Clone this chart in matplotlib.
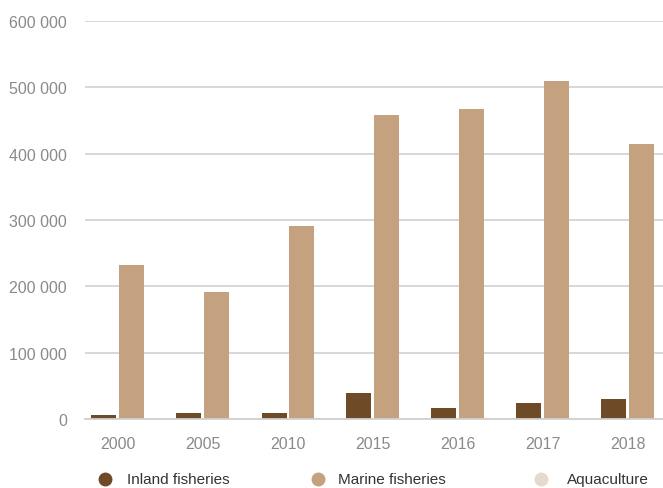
import numpy as np
import matplotlib
matplotlib.use("Agg")
import matplotlib.pyplot as plt
from matplotlib.lines import Line2D

years = ["2000", "2005", "2010", "2015", "2016", "2017", "2018"]
inland = [6000, 9000, 9000, 39000, 16500, 24000, 30000]
marine = [232000, 191000, 291000, 458000, 467000, 510000, 415000]
aquaculture = [0, 0, 0, 0, 0, 0, 0]
series_names = ["Inland fisheries", "Marine fisheries", "Aquaculture"]
colors = ["#6e4a27", "#c4a27f", "#e6d9cd"]

plt.rcParams["font.family"] = ["Liberation Sans", "DejaVu Sans"]

W, H = 663, 489
fig = plt.figure(figsize=(W / 100, H / 100), dpi=100, facecolor="w")
ax = fig.add_axes([85 / W, (H - 420) / H, (663 - 85) / W, (420 - 22) / H])

x = np.arange(len(years))
bw = 25 / 85
gap = 3 / 85
ax.bar(x - bw / 2 - gap / 2, inland, width=bw, color=colors[0], zorder=3)
ax.bar(x + bw / 2 + gap / 2, marine, width=bw, color=colors[1], zorder=3)

ax.set_xlim((85 - 118) / 85, (663 - 118) / 85)
ax.set_ylim(0, 600000)
yt = np.arange(0, 600001, 100000)
ax.set_yticks(yt)
ax.set_yticklabels(["0" if v == 0 else f"{v // 1000} 000" for v in yt])
ax.set_xticks(x)
ax.set_xticklabels(years)
ax.tick_params(axis="both", length=0, labelsize=11.5, labelcolor="#8a8a8a")
ax.tick_params(axis="y", pad=13)
ax.tick_params(axis="x", pad=12)
ax.grid(axis="y", color="#d4d4d4", linewidth=1.3, zorder=0)
for s in ax.spines.values():
    s.set_visible(False)
ax.spines["bottom"].set_visible(True)
ax.spines["bottom"].set_color("#d0d0d0")
ax.spines["bottom"].set_linewidth(1.3)
ax.spines["bottom"].set_zorder(4)

marker_x = [105, 318, 541]
text_x = [127, 338, 567]
ly = (H - 480) / H
for name, c, mx, tx in zip(series_names, colors, marker_x, text_x):
    fig.add_artist(Line2D([mx / W], [ly], marker="o", markersize=9, color=c,
                          linestyle="none", transform=fig.transFigure))
    fig.text(tx / W, ly, name, fontsize=11, color="#333333", va="center", ha="left")

fig.savefig("out.png", dpi=100)
